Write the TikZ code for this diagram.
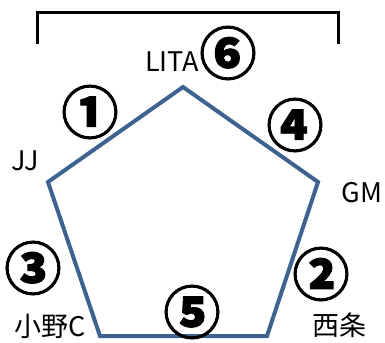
\documentclass[tikz,border=0pt]{standalone}
\usepackage{fontspec}
\newfontfamily\jpfont{Noto Sans CJK JP}
\newfontfamily\numfont{Noto Sans CJK JP}[FakeBold=1.5]
\definecolor{penta}{HTML}{3D6391}
\begin{document}
\begin{tikzpicture}[x=1bp,y=-1bp,
  lbl/.style={inner sep=0pt,font=\jpfont\fontsize{27bp}{29bp}\selectfont},
  num/.style={inner sep=0pt,font=\numfont\bfseries\fontsize{57bp}{60bp}\selectfont},
  edge/.style={draw=penta,line width=4bp,line join=miter}]
\useasboundingbox (0,0) rectangle (385,343);
% bracket
\coordinate (b1) at (37,44);
\coordinate (b2) at (37,12);
\coordinate (b3) at (338,12);
\coordinate (b4) at (338,44);
\draw[line width=3bp] (b1) -- (b2) -- (b3) -- (b4);
% pentagon
\coordinate (top) at (183,87);
\coordinate (rt) at (318,182);
\coordinate (br) at (267,336);
\coordinate (bl) at (100,336);
\coordinate (lt) at (48,182);
\draw[edge] (top) -- (rt) -- (br) -- (bl) -- (lt) -- cycle;
% labels
\node[lbl] (lita) at (172,62) {LITA};
\node[lbl] (jj) at (25,161) {JJ};
\node[lbl] (gm) at (362,193) {GM};
\node[lbl] (ono) at (50,326) {小野C};
\node[lbl] (saijo) at (339,325) {西条};
% circled numbers
\node[num] (n1) at (90,112) {①};
\node[num] (n2) at (321,274) {②};
\node[num] (n3) at (33,268) {③};
\node[num] (n4) at (295,125) {④};
\node[num] (n5) at (192,312) {⑤};
\node[num] (n6) at (228,53) {⑥};
\end{tikzpicture}
\end{document}
